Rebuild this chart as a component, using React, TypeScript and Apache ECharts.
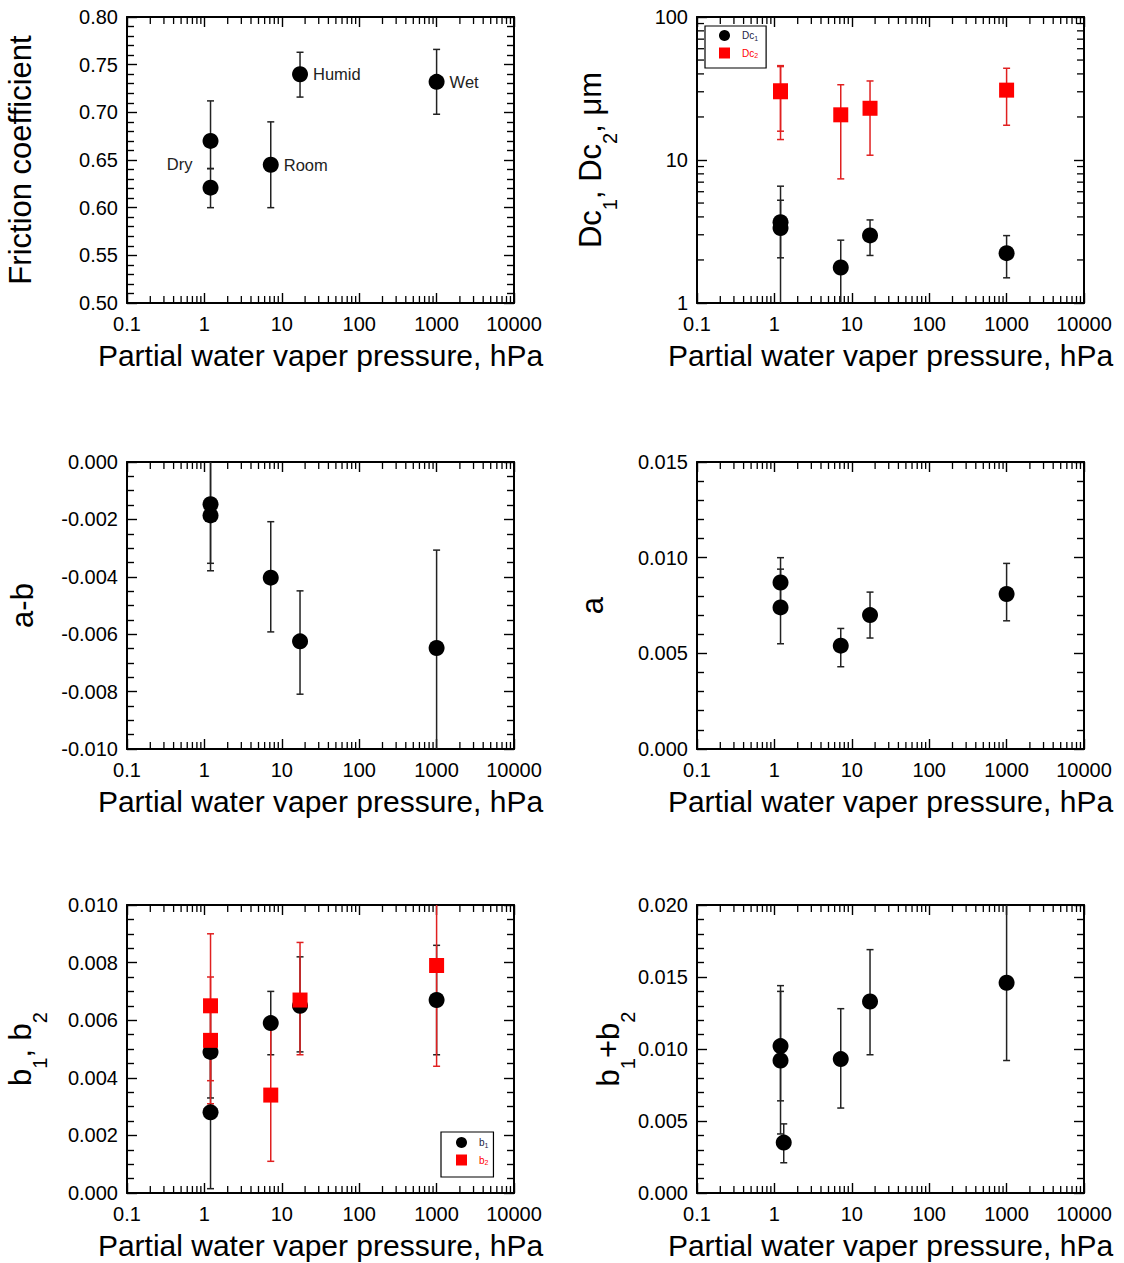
import React, { useEffect, useRef } from "react";
import * as echarts from "echarts";

const FONT = "'Liberation Sans', Arial, Helvetica, sans-serif";

// ---------------- data ----------------
// Partial water vapour pressure (hPa) of each test: Dry, Dry, Room, Humid, Wet
const pressure = [1.2, 1.2, 7.2, 17.2, 1000];
const pressureSum = [1.2, 1.2, 1.32, 7.2, 17.2, 1000];

// Friction coefficient
const fricY = [0.67, 0.621, 0.645, 0.74, 0.732];
const fricLo = [0.641, 0.6, 0.6, 0.716, 0.698];
const fricHi = [0.712, 0.641, 0.69, 0.763, 0.766];
const fricLabels = ["Dry", "", "Room", "Humid", "Wet"];

// Dc1, Dc2 (um)
const dc1Y = [3.67, 3.34, 1.77, 2.97, 2.23];
const dc1Lo = [2.07, 0.8, 0.8, 2.15, 1.5];
const dc1Hi = [6.56, 5.23, 2.75, 3.81, 2.96];
const dc2Y = [30.5, 30.0, 20.7, 23.0, 30.8];
const dc2Lo = [15.9, 13.9, 7.38, 10.8, 17.5];
const dc2Hi = [45.7, 45.0, 33.6, 35.7, 43.8];

// a-b
const abY = [-0.00147, -0.00186, -0.00403, -0.00625, -0.00648];
const abLo = [-0.00379, -0.00353, -0.00592, -0.00809, -0.0105];
const abHi = [0.0005, 0.0001, -0.00208, -0.00449, -0.00307];

// a
const aY = [0.0087, 0.0074, 0.0054, 0.007, 0.0081];
const aLo = [0.0074, 0.0055, 0.0043, 0.0058, 0.0067];
const aHi = [0.01, 0.0094, 0.0063, 0.0082, 0.0097];

// b1, b2
const b1Y = [0.0049, 0.0028, 0.0059, 0.0065, 0.0067];
const b1Lo = [0.0033, 0.00015, 0.0048, 0.0049, 0.0048];
const b1Hi = [0.0065, 0.0054, 0.007, 0.0082, 0.0086];
const b2Y = [0.0065, 0.0053, 0.0034, 0.0067, 0.0079];
const b2Lo = [0.0039, 0.0031, 0.0011, 0.0048, 0.0044];
const b2Hi = [0.009, 0.0075, 0.0058, 0.0087, 0.0105];

// b1 + b2
const bSumY = [0.0102, 0.0092, 0.0035, 0.0093, 0.0133, 0.0146];
const bSumLo = [0.0064, 0.0041, 0.0021, 0.0059, 0.0096, 0.0092];
const bSumHi = [0.014, 0.0144, 0.0048, 0.0128, 0.0169, 0.021];

const xAxisTitle = "Partial water vaper pressure, hPa";

// minor tick positions of the logarithmic axes (2..9 of each decade)
const xDecades = [0.1, 1, 10, 100, 1000];
const yDecades = [1, 10];
const mantissas = [2, 3, 4, 5, 6, 7, 8, 9];

// ---------------- layout ----------------
const COL_LEFT = [127, 697];
const ROW_TOP = [17, 462, 905];
const ROW_H = [286, 287, 288];
const PLOT_W = 387;

type SeriesCfg = {
  name: string;
  x: number[];
  y: number[];
  lo: number[];
  hi: number[];
  color: string;
  barColor: string;
  symbol: string;
  size: number;
  labels?: string[];
};

type PanelCfg = {
  col: number;
  row: number;
  yType: "value" | "log";
  yMin: number;
  yMax: number;
  yInt?: number;
  yMinor?: number;
  yDec?: number;
  yName: string;
  yNameGap: number;
  series: SeriesCfg[];
};

const BLACK = "#000000";
const RED = "#ff0000";

const panels: PanelCfg[] = [
  {
    col: 0, row: 0, yType: "value", yMin: 0.5, yMax: 0.8, yInt: 0.05, yMinor: 5, yDec: 2,
    yName: "Friction coefficient", yNameGap: 91,
    series: [{ name: "mu", x: pressure, y: fricY, lo: fricLo, hi: fricHi, color: BLACK, barColor: "#222", symbol: "circle", size: 16, labels: fricLabels }],
  },
  {
    col: 1, row: 0, yType: "log", yMin: 1, yMax: 100,
    yName: "{b|Dc}{s|1}{b|, Dc}{s|2}{b|, μm}", yNameGap: 91,
    series: [
      { name: "Dc1", x: pressure, y: dc1Y, lo: dc1Lo, hi: dc1Hi, color: BLACK, barColor: "#222", symbol: "circle", size: 16 },
      { name: "Dc2", x: pressure, y: dc2Y, lo: dc2Lo, hi: dc2Hi, color: RED, barColor: "#e02020", symbol: "rect", size: 15 },
    ],
  },
  {
    col: 0, row: 1, yType: "value", yMin: -0.01, yMax: 0, yInt: 0.002, yMinor: 4, yDec: 3,
    yName: "a-b", yNameGap: 89,
    series: [{ name: "a-b", x: pressure, y: abY, lo: abLo, hi: abHi, color: BLACK, barColor: "#222", symbol: "circle", size: 16 }],
  },
  {
    col: 1, row: 1, yType: "value", yMin: 0, yMax: 0.015, yInt: 0.005, yMinor: 5, yDec: 3,
    yName: "a", yNameGap: 89,
    series: [{ name: "a", x: pressure, y: aY, lo: aLo, hi: aHi, color: BLACK, barColor: "#222", symbol: "circle", size: 16 }],
  },
  {
    col: 0, row: 2, yType: "value", yMin: 0, yMax: 0.01, yInt: 0.002, yMinor: 4, yDec: 3,
    yName: "{b|b}{s|1}{b|, b}{s|2}", yNameGap: 91,
    series: [
      { name: "b1", x: pressure, y: b1Y, lo: b1Lo, hi: b1Hi, color: BLACK, barColor: "#222", symbol: "circle", size: 16 },
      { name: "b2", x: pressure, y: b2Y, lo: b2Lo, hi: b2Hi, color: RED, barColor: "#e02020", symbol: "rect", size: 15 },
    ],
  },
  {
    col: 1, row: 2, yType: "value", yMin: 0, yMax: 0.02, yInt: 0.005, yMinor: 5, yDec: 3,
    yName: "{b|b}{s|1}{b|+b}{s|2}", yNameGap: 73,
    series: [{ name: "b1+b2", x: pressureSum, y: bSumY, lo: bSumLo, hi: bSumHi, color: BLACK, barColor: "#222", symbol: "circle", size: 16 }],
  },
];

const titleRich = {
  b: { fontSize: 31, lineHeight: 31, verticalAlign: "top", fontFamily: FONT, color: "#000" },
  s: { fontSize: 20, lineHeight: 20, padding: [25, 0, 0, 0], verticalAlign: "top", fontFamily: FONT, color: "#000" },
};

const axisLineStyle = { color: "#000", width: 2 };
const tickLineStyle = { color: "#000", width: 1.4 };

const logLabel = (v: number) => String(+Number(v).toPrecision(6));

function buildOption() {
  const grid: any[] = [];
  const xAxis: any[] = [];
  const yAxis: any[] = [];
  const series: any[] = [];

  const xMinor: number[] = [];
  xDecades.forEach((d) => mantissas.forEach((m) => xMinor.push(+(d * m).toPrecision(6))));
  const yMinorLog: number[] = [];
  yDecades.forEach((d) => mantissas.forEach((m) => yMinorLog.push(d * m)));

  panels.forEach((p, i) => {
    grid.push({ left: COL_LEFT[p.col], top: ROW_TOP[p.row], width: PLOT_W, height: ROW_H[p.row], containLabel: false });

    const xBase = {
      gridIndex: i,
      type: "log",
      logBase: 10,
      min: 0.1,
      max: 10000,
      axisLine: { show: true, onZero: false, lineStyle: axisLineStyle },
      axisTick: { show: true, inside: true, length: 10, lineStyle: tickLineStyle },
      splitLine: { show: false },
    };
    xAxis.push({
      ...xBase,
      position: "bottom",
      axisLabel: { show: true, margin: 11, fontSize: 20, color: "#000", fontFamily: FONT, formatter: logLabel },
      name: xAxisTitle,
      nameLocation: "middle",
      nameGap: 37,
      nameMoveOverlap: false,
      nameTextStyle: { fontSize: 30, lineHeight: 30, color: "#000", fontFamily: FONT },
    });
    xAxis.push({ ...xBase, position: "top", axisLabel: { show: false } });

    const yBase: any = {
      gridIndex: i,
      type: p.yType,
      min: p.yMin,
      max: p.yMax,
      axisLine: { show: true, onZero: false, lineStyle: axisLineStyle },
      axisTick: { show: true, inside: true, length: 10, lineStyle: tickLineStyle },
      splitLine: { show: false },
      minorSplitLine: { show: false },
    };
    if (p.yType === "value") {
      yBase.interval = p.yInt;
      yBase.minorTick = { show: true, splitNumber: p.yMinor, length: 7, lineStyle: tickLineStyle };
    } else {
      yBase.logBase = 10;
    }
    const dec = p.yDec ?? 0;
    yAxis.push({
      ...yBase,
      position: "left",
      axisLabel: {
        show: true, margin: 9, fontSize: 20, color: "#000", fontFamily: FONT,
        formatter: p.yType === "log" ? logLabel : (v: number) => Number(v).toFixed(dec),
      },
      name: p.yName,
      nameLocation: "middle",
      nameRotate: 90,
      nameGap: p.yNameGap,
      nameMoveOverlap: false,
      nameTextStyle: { fontSize: 31, lineHeight: 31, color: "#000", fontFamily: FONT, rich: titleRich },
    });
    yAxis.push({ ...yBase, position: "right", axisLabel: { show: false } });

    const xi = 2 * i;
    // minor ticks of the log x axes (bottom and top)
    series.push({
      type: "custom",
      xAxisIndex: xi,
      yAxisIndex: xi,
      silent: true,
      clip: false,
      z: 1,
      data: xMinor.map((v) => [v, p.yMin]),
      renderItem: (params: any, api: any) => {
        const pt = api.coord([api.value(0), api.value(1)]);
        const cs = params.coordSys;
        const bottom = cs.y + cs.height;
        return {
          type: "group",
          children: [
            { type: "line", shape: { x1: pt[0], y1: bottom, x2: pt[0], y2: bottom - 7 }, style: { stroke: "#000", lineWidth: 1.3 } },
            { type: "line", shape: { x1: pt[0], y1: cs.y, x2: pt[0], y2: cs.y + 7 }, style: { stroke: "#000", lineWidth: 1.3 } },
          ],
        };
      },
    });
    if (p.yType === "log") {
      series.push({
        type: "custom",
        xAxisIndex: xi,
        yAxisIndex: xi,
        silent: true,
        clip: false,
        z: 1,
        data: yMinorLog.map((v) => [1, v]),
        renderItem: (params: any, api: any) => {
          const pt = api.coord([api.value(0), api.value(1)]);
          const cs = params.coordSys;
          const right = cs.x + cs.width;
          return {
            type: "group",
            children: [
              { type: "line", shape: { x1: cs.x, y1: pt[1], x2: cs.x + 7, y2: pt[1] }, style: { stroke: "#000", lineWidth: 1.3 } },
              { type: "line", shape: { x1: right, y1: pt[1], x2: right - 7, y2: pt[1] }, style: { stroke: "#000", lineWidth: 1.3 } },
            ],
          };
        },
      });
    }

    // error bars
    p.series.forEach((s) => {
      series.push({
        type: "custom",
        name: s.name + " error",
        xAxisIndex: xi,
        yAxisIndex: xi,
        silent: true,
        clip: true,
        z: 2,
        encode: { x: 0, y: [1, 2] },
        data: s.x.map((xv, k) => [xv, s.lo[k], s.hi[k]]),
        renderItem: (params: any, api: any) => {
          const xv = api.value(0);
          const top = api.coord([xv, api.value(2)]);
          const bot = api.coord([xv, api.value(1)]);
          const w = 3.5;
          const st = { stroke: s.barColor, lineWidth: 1.5 };
          return {
            type: "group",
            children: [
              { type: "line", shape: { x1: top[0], y1: top[1], x2: bot[0], y2: bot[1] }, style: st },
              { type: "line", shape: { x1: top[0] - w, y1: top[1], x2: top[0] + w, y2: top[1] }, style: st },
              { type: "line", shape: { x1: bot[0] - w, y1: bot[1], x2: bot[0] + w, y2: bot[1] }, style: st },
            ],
          };
        },
      });
    });
    // markers
    p.series.forEach((s) => {
      series.push({
        type: "scatter",
        name: s.name,
        xAxisIndex: xi,
        yAxisIndex: xi,
        symbol: s.symbol,
        symbolSize: s.size,
        itemStyle: { color: s.color, opacity: 1 },
        z: 3,
        data: s.x.map((xv, k) => {
          const item: any = { value: [xv, s.y[k]] };
          const lbl = s.labels ? s.labels[k] : "";
          if (lbl) {
            const isLeft = lbl === "Dry";
            item.label = {
              show: true,
              formatter: lbl,
              position: isLeft ? "left" : "right",
              distance: isLeft ? 10 : 5,
              offset: isLeft ? [0, 23] : [0, 0],
              fontSize: 16.5,
              color: "#222",
              fontFamily: FONT,
            };
          }
          return item;
        }),
      });
    });
  });

  const legendText = {
    fontSize: 10,
    fontFamily: FONT,
    color: "#222244",
    padding: [0, 0, 0, 7],
    rich: { s: { fontSize: 7, padding: [5, 0, 0, 0], verticalAlign: "top", fontFamily: FONT } },
  };
  const legendFmt = (name: string) => name.slice(0, -1) + "{s|" + name.slice(-1) + "}";
  const legendBase = {
    orient: "vertical",
    selectedMode: false,
    itemWidth: 11,
    itemHeight: 11,
    itemGap: 6,
    borderColor: "#000",
    borderWidth: 1.2,
    borderRadius: 0,
    textStyle: legendText,
    formatter: legendFmt,
  };

  return {
    animation: false,
    backgroundColor: "#ffffff",
    grid,
    xAxis,
    yAxis,
    legend: [
      {
        ...legendBase,
        left: 705,
        top: 26,
        padding: [4, 8, 9, 14],
        data: [{ name: "Dc1" }, { name: "Dc2", textStyle: { color: RED } }],
      },
      {
        ...legendBase,
        left: 441,
        top: 1132,
        padding: [5, 5, 11, 15],
        data: [{ name: "b1" }, { name: "b2", textStyle: { color: RED } }],
      },
    ],
    series,
  };
}

export default function App() {
  const ref = useRef<HTMLDivElement>(null);
  useEffect(() => {
    if (!ref.current) return;
    const chart = echarts.init(ref.current, undefined, { renderer: "svg" });
    chart.setOption(buildOption() as any);
    return () => chart.dispose();
  }, []);
  return (
    <div
      ref={ref}
      style={{ position: "absolute", left: 0, top: 0, width: 1124, height: 1263, background: "#fff" }}
    />
  );
}
